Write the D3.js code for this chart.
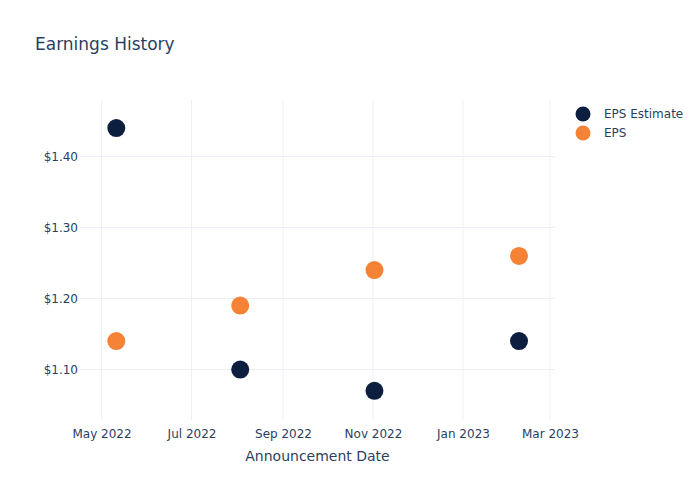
<!DOCTYPE html>
<html>
<head>
<meta charset="utf-8">
<script src="https://cdn.jsdelivr.net/npm/d3@7"></script>
<style>
  body { margin: 0; background: #fff; }
  svg { font-family: "DejaVu Sans", Verdana, sans-serif; }
</style>
</head>
<body>
<svg id="chart" width="700" height="500"></svg>
<script>
const dates = ["2022-05-11", "2022-08-03", "2022-11-02", "2023-02-08"];
const epsEstimate = [1.44, 1.10, 1.07, 1.14];
const epsActual = [1.14, 1.19, 1.24, 1.26];
const seriesNames = ["EPS Estimate", "EPS"];
const seriesColors = ["#0c1f3f", "#f68236"];
const yTicks = [1.10, 1.20, 1.30, 1.40];
const xTicks = ["2022-05-01", "2022-07-01", "2022-09-01", "2022-11-01", "2023-01-01", "2023-03-01"];

const parse = d3.timeParse("%Y-%m-%d");
const svg = d3.select("#chart");
const margin = {left: 80, right: 145, top: 100, bottom: 80};
const W = 700, H = 500;
const textColor = "#2a3f5f";
const gridColor = "#ebf0f8";

const x = d3.scaleTime()
  .domain([parse("2022-04-17"), parse("2023-03-05")])
  .range([margin.left + 0.9, W - margin.right + 0.9]);
const y = d3.scaleLinear()
  .domain([1.0289, 1.4796])
  .range([H - margin.bottom, margin.top]);

// grid
const gx = svg.append("g");
gx.selectAll("line.v").data(xTicks).join("line")
  .attr("x1", d => x(parse(d))).attr("x2", d => x(parse(d)))
  .attr("y1", margin.top).attr("y2", H - margin.bottom)
  .attr("stroke", gridColor).attr("stroke-width", 1);
gx.selectAll("line.h").data(yTicks).join("line")
  .attr("x1", margin.left).attr("x2", W - margin.right)
  .attr("y1", d => y(d)).attr("y2", d => y(d))
  .attr("stroke", gridColor).attr("stroke-width", 1);

// axes
const fmtX = d3.timeFormat("%b %Y");
const xAxis = d3.axisBottom(x).tickValues(xTicks.map(parse)).tickFormat(fmtX).tickSize(0).tickPadding(9);
const gX = svg.append("g").attr("transform", `translate(0,${H - margin.bottom})`).call(xAxis);
gX.select(".domain").remove();
gX.selectAll("text").attr("fill", textColor).style("font-size", "12px").style("font-family", "DejaVu Sans");

const yAxis = d3.axisLeft(y).tickValues(yTicks).tickFormat(d => "$" + d.toFixed(2)).tickSize(0).tickPadding(2);
const gY = svg.append("g").attr("transform", `translate(${margin.left},0)`).call(yAxis);
gY.select(".domain").remove();
gY.selectAll("text").attr("fill", textColor).style("font-size", "12px").style("font-family", "DejaVu Sans");

// points
const series = [epsEstimate, epsActual];
series.forEach((vals, i) => {
  svg.append("g").selectAll("circle").data(vals).join("circle")
    .attr("cx", (d, j) => x(parse(dates[j])))
    .attr("cy", d => y(d))
    .attr("r", 9)
    .attr("fill", seriesColors[i]);
});

// title
svg.append("text").attr("x", 35).attr("y", 50).text("Earnings History")
  .attr("fill", textColor).style("font-size", "17px");

// x axis title
svg.append("text").attr("x", (margin.left + W - margin.right) / 2).attr("y", 461)
  .attr("text-anchor", "middle").text("Announcement Date")
  .attr("fill", textColor).style("font-size", "14px");

// legend
const lg = svg.append("g");
seriesNames.forEach((n, i) => {
  const yy = 114 + i * 19;
  lg.append("circle").attr("cx", 583).attr("cy", yy).attr("r", 7.5).attr("fill", seriesColors[i]);
  lg.append("text").attr("x", 604).attr("y", yy + 4).text(n)
    .attr("fill", textColor).style("font-size", "12px");
});
</script>
</body>
</html>
